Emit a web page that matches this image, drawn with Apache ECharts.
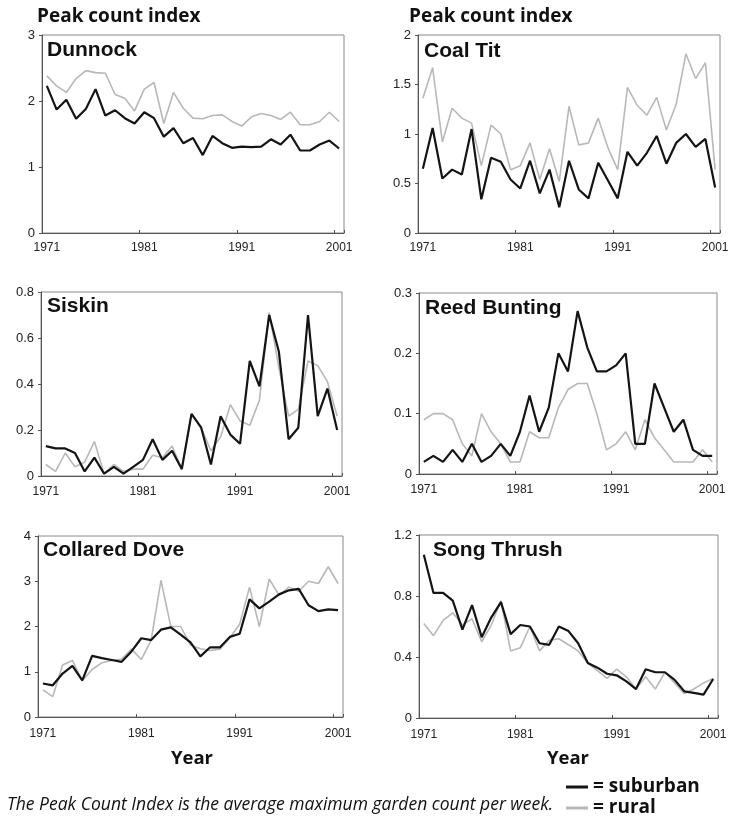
<!DOCTYPE html>
<html>
<head>
<meta charset="utf-8">
<script src="https://cdn.jsdelivr.net/npm/echarts@6/dist/echarts.min.js"></script>
<style>
  html, body { margin: 0; padding: 0; background: #fff; }
  #chart { width: 736px; height: 822px; }
</style>
</head>
<body>
<div id="chart"></div>
<script>
// ---- data ----
const years = ['1971','1972','1973','1974','1975','1976','1977','1978','1979','1980',
               '1981','1982','1983','1984','1985','1986','1987','1988','1989','1990',
               '1991','1992','1993','1994','1995','1996','1997','1998','1999','2000','2001'];

const species = ['Dunnock', 'Coal Tit', 'Siskin', 'Reed Bunting', 'Collared Dove', 'Song Thrush'];

const dunnockSuburban = [2.23,1.87,2.02,1.73,1.88,2.18,1.78,1.86,1.74,1.66,1.83,1.74,1.46,1.59,1.36,1.44,1.18,1.47,1.36,1.29,1.31,1.30,1.31,1.42,1.34,1.49,1.25,1.25,1.34,1.40,1.28];
const dunnockRural    = [2.38,2.23,2.13,2.34,2.46,2.43,2.42,2.10,2.04,1.85,2.18,2.28,1.66,2.13,1.89,1.74,1.73,1.78,1.79,1.69,1.62,1.76,1.81,1.78,1.72,1.83,1.64,1.64,1.69,1.83,1.69];

const coalTitSuburban = [0.65,1.06,0.55,0.64,0.59,1.05,0.34,0.76,0.72,0.54,0.45,0.73,0.40,0.64,0.26,0.73,0.44,0.35,0.71,0.53,0.35,0.82,0.68,0.81,0.98,0.70,0.91,1.00,0.87,0.95,0.46];
const coalTitRural    = [1.36,1.67,0.92,1.26,1.16,1.11,0.68,1.09,1.00,0.64,0.68,0.91,0.54,0.85,0.52,1.28,0.89,0.91,1.16,0.86,0.64,1.47,1.29,1.19,1.37,1.04,1.30,1.81,1.56,1.72,0.64];

const siskinSuburban = [0.13,0.12,0.12,0.10,0.02,0.08,0.01,0.04,0.01,0.04,0.07,0.16,0.07,0.11,0.03,0.27,0.21,0.05,0.26,0.18,0.14,0.50,0.39,0.70,0.54,0.16,0.21,0.70,0.26,0.38,0.20];
const siskinRural    = [0.05,0.02,0.10,0.04,0.06,0.15,0.01,0.05,0.02,0.03,0.03,0.09,0.08,0.13,0.03,0.27,0.21,0.11,0.17,0.31,0.24,0.22,0.33,0.71,0.47,0.26,0.29,0.50,0.48,0.41,0.26];

const reedBuntingSuburban = [0.02,0.03,0.02,0.04,0.02,0.05,0.02,0.03,0.05,0.03,0.07,0.13,0.07,0.11,0.20,0.17,0.27,0.21,0.17,0.17,0.18,0.20,0.05,0.05,0.15,0.11,0.07,0.09,0.04,0.03,0.03];
const reedBuntingRural    = [0.09,0.10,0.10,0.09,0.05,0.03,0.10,0.07,0.05,0.02,0.02,0.07,0.06,0.06,0.11,0.14,0.15,0.15,0.10,0.04,0.05,0.07,0.04,0.09,0.06,0.04,0.02,0.02,0.02,0.04,0.02];

const collaredDoveSuburban = [0.74,0.70,0.96,1.13,0.81,1.35,1.30,1.26,1.22,1.45,1.74,1.70,1.93,1.98,1.82,1.65,1.34,1.54,1.54,1.77,1.84,2.60,2.40,2.55,2.71,2.80,2.83,2.47,2.34,2.38,2.36];
const collaredDoveRural    = [0.60,0.45,1.15,1.25,0.80,1.05,1.20,1.25,1.28,1.50,1.27,1.70,3.02,2.00,2.00,1.59,1.51,1.47,1.50,1.75,2.05,2.87,2.00,3.05,2.69,2.87,2.78,3.00,2.95,3.32,2.95];

const songThrushSuburban = [1.07,0.82,0.82,0.77,0.58,0.74,0.53,0.66,0.76,0.55,0.61,0.60,0.49,0.48,0.60,0.57,0.49,0.36,0.33,0.29,0.28,0.24,0.19,0.32,0.30,0.30,0.25,0.175,0.165,0.153,0.256];
const songThrushRural    = [0.62,0.54,0.64,0.69,0.61,0.65,0.50,0.61,0.77,0.44,0.46,0.60,0.44,0.51,0.52,0.48,0.44,0.36,0.31,0.26,0.32,0.27,0.19,0.27,0.19,0.30,0.23,0.16,0.19,0.23,0.26];

const yMax      = [3, 2, 0.8, 0.3, 4, 1.2];
const yInterval = [1, 0.5, 0.2, 0.1, 1, 0.4];

const suburbanData = [dunnockSuburban, coalTitSuburban, siskinSuburban, reedBuntingSuburban, collaredDoveSuburban, songThrushSuburban];
const ruralData    = [dunnockRural, coalTitRural, siskinRural, reedBuntingRural, collaredDoveRural, songThrushRural];

// ---- layout ----
const grids = [
  {left: 42,  top: 35,  width: 302, height: 198},
  {left: 418, top: 35,  width: 302, height: 198},
  {left: 41,  top: 292, width: 301, height: 184},
  {left: 419, top: 293, width: 298, height: 181},
  {left: 38,  top: 536, width: 305, height: 181},
  {left: 419, top: 535, width: 299, height: 183}
];
const labelMargin = [9, 9, 10, 10, 11, 11];
const namePos = [[47, 50], [424, 51], [47, 306], [425, 308], [43, 550], [433, 550]];

const BLACK = '#141414';
const GREY = '#b8b8b8';
const AXIS = '#555';
const hum = '"Open Sans", Lato, sans-serif';

const legendText = {fontFamily: hum, fontWeight: 'bold', fontSize: 19, color: '#111', lineHeight: 20};

const option = {
  animation: false,
  backgroundColor: '#fff',
  grid: grids.map(g => Object.assign({show: true, borderColor: '#8a8a8a', borderWidth: 1, containLabel: false}, g)),
  xAxis: grids.map((g, i) => ({
    type: 'category',
    gridIndex: i,
    data: years,
    boundaryGap: true,
    axisLine: {lineStyle: {color: AXIS, width: 1}},
    axisTick: {show: true, inside: true, length: 3, interval: 9, lineStyle: {color: AXIS}},
    axisLabel: {interval: 9, color: '#222', fontSize: 12, margin: labelMargin[i],
                fontFamily: '"Liberation Sans", Arial, sans-serif'},
    splitLine: {show: false}
  })),
  yAxis: grids.map((g, i) => ({
    type: 'value',
    gridIndex: i,
    min: 0,
    max: yMax[i],
    interval: yInterval[i],
    axisLine: {show: true, lineStyle: {color: AXIS, width: 1}},
    axisTick: {show: true, length: 3, lineStyle: {color: AXIS}},
    axisLabel: {color: '#222', fontSize: 13, margin: 7, fontFamily: '"Liberation Sans", Arial, sans-serif'},
    splitLine: {show: false}
  })),
  legend: [
    {data: ['suburban'], left: 566, top: 777, padding: 0, icon: 'rect', itemWidth: 22, itemHeight: 3,
     formatter: '= {name}', textStyle: legendText},
    {data: ['rural'], left: 566, top: 798, padding: 0, icon: 'rect', itemWidth: 22, itemHeight: 3,
     formatter: '= {name}', textStyle: legendText}
  ],
  series: [],
  graphic: []
};

for (let i = 0; i < 6; i++) {
  option.series.push({
    name: 'rural', type: 'line', xAxisIndex: i, yAxisIndex: i,
    data: ruralData[i], showSymbol: false, symbol: 'none',
    color: GREY, itemStyle: {color: GREY},
    lineStyle: {color: GREY, width: 1.6}, z: 2
  });
}
for (let i = 0; i < 6; i++) {
  option.series.push({
    name: 'suburban', type: 'line', xAxisIndex: i, yAxisIndex: i,
    data: suburbanData[i], showSymbol: false, symbol: 'none',
    color: BLACK, itemStyle: {color: BLACK},
    lineStyle: {color: BLACK, width: 2.2}, z: 3
  });
}

function txt(x, y, text, font, align) {
  return {type: 'text', x: x, y: y, z: 10,
          style: {text: text, font: font, fill: '#111', textAlign: align || 'left', textVerticalAlign: 'middle'}};
}
option.graphic.push(txt(37, 17, 'Peak count index', 'bold 19px ' + hum));
option.graphic.push(txt(409, 17, 'Peak count index', 'bold 19px ' + hum));
species.forEach((s, i) => {
  option.graphic.push(txt(namePos[i][0], namePos[i][1], s, 'bold 21px "Liberation Sans", Arial, sans-serif'));
});
option.graphic.push(txt(192, 759, 'Year', 'bold 18.5px ' + hum, 'center'));
option.graphic.push(txt(568, 759, 'Year', 'bold 18.5px ' + hum, 'center'));
option.graphic.push(txt(7, 805, 'The Peak Count Index is the average maximum garden count per week.', 'italic 17.5px ' + hum));

const chart = echarts.init(document.getElementById('chart'), null, {renderer: 'canvas'});
chart.setOption(option);
</script>
</body>
</html>
